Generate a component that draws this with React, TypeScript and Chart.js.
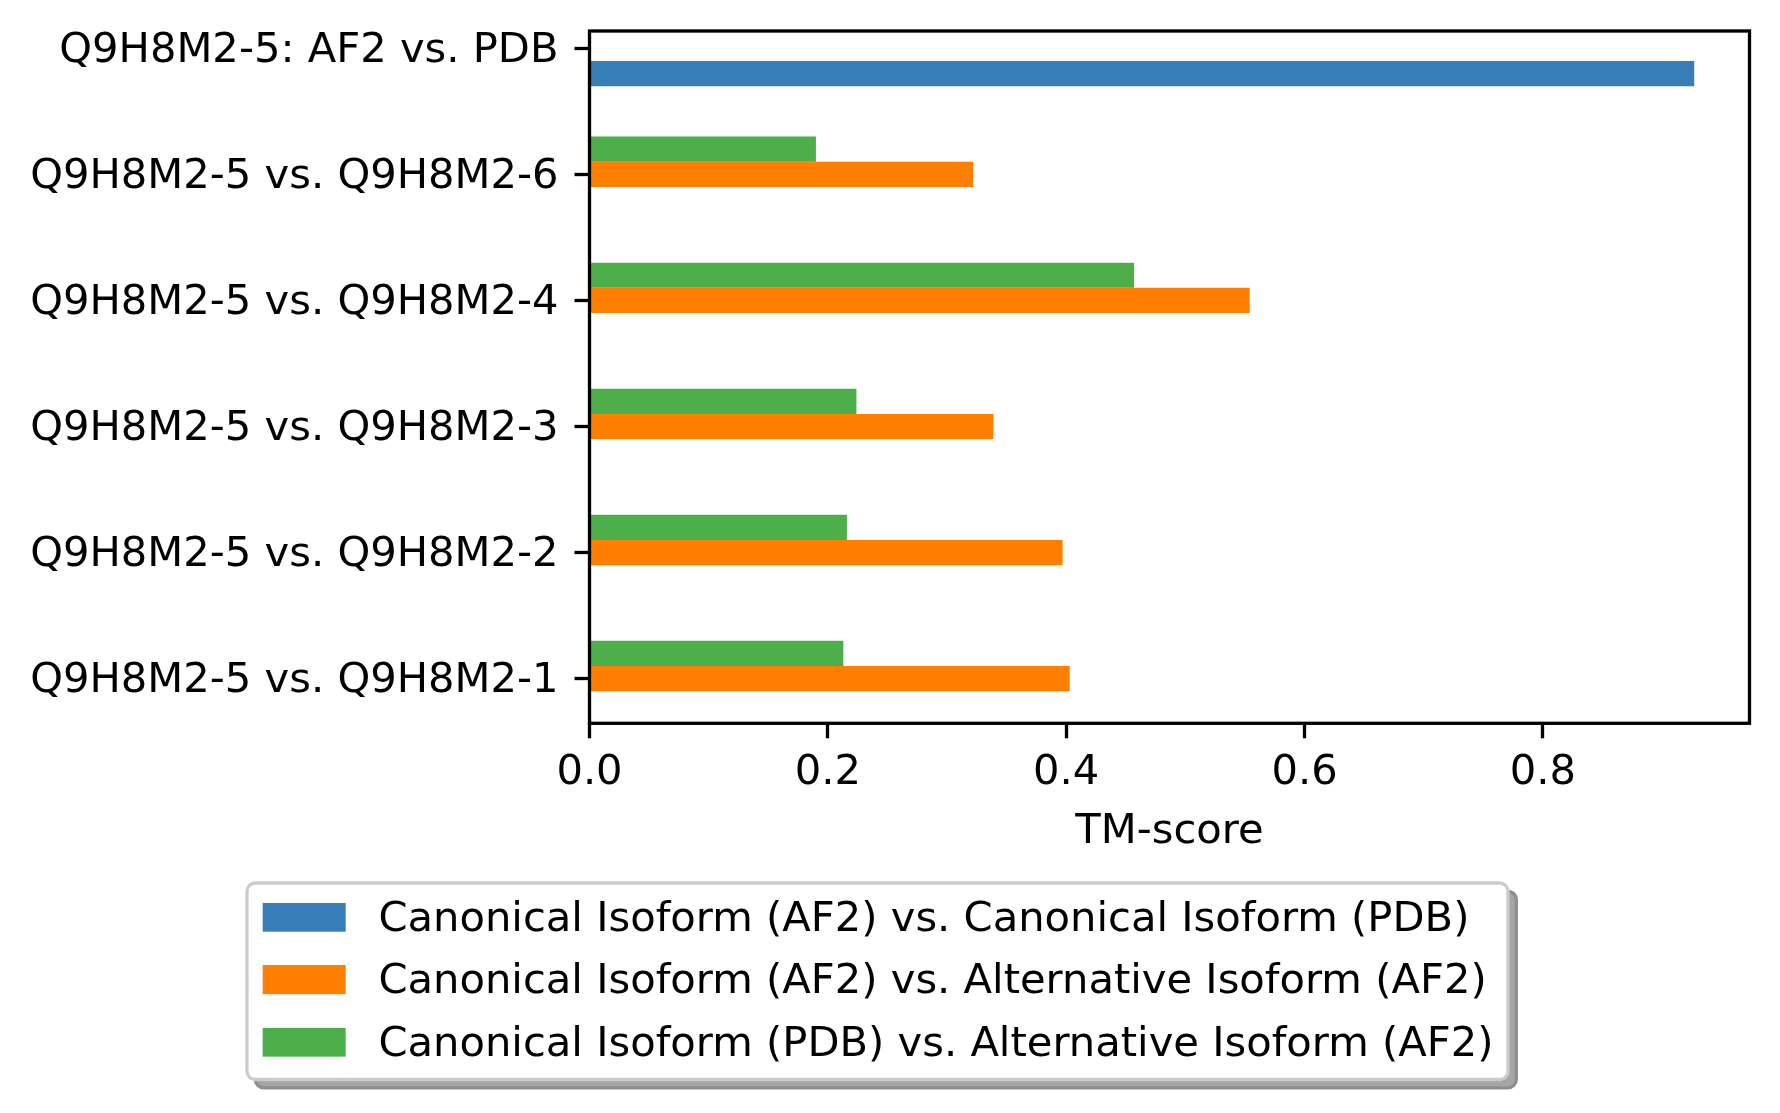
import React, { useEffect, useRef } from "react";
import { Chart, registerables } from "chart.js";

Chart.register(...registerables);

const FONT = '"DejaVu Sans", "Liberation Sans", sans-serif';
const FS = 41.67;

const CATEGORIES = [
  "Q9H8M2-5: AF2 vs. PDB",
  "Q9H8M2-5 vs. Q9H8M2-6",
  "Q9H8M2-5 vs. Q9H8M2-4",
  "Q9H8M2-5 vs. Q9H8M2-3",
  "Q9H8M2-5 vs. Q9H8M2-2",
  "Q9H8M2-5 vs. Q9H8M2-1",
];
const ROW_POSITIONS = [0, 1, 2, 3, 4, 5];

const AF2_VS_PDB: (number | null)[] = [0.927, null, null, null, null, null];
const AF2_VS_ALT_AF2: (number | null)[] = [null, 0.322, 0.554, 0.339, 0.397, 0.403];
const PDB_VS_ALT_AF2: (number | null)[] = [null, 0.19, 0.457, 0.224, 0.216, 0.213];

const X_TICKS = [0, 0.2, 0.4, 0.6, 0.8];
const X_MAX = 0.9734;
const Y_MIN = -0.138;
const Y_MAX = 5.355;

const SERIES_LABELS = [
  "Canonical Isoform (AF2) vs. Canonical Isoform (PDB)",
  "Canonical Isoform (AF2) vs. Alternative Isoform (AF2)",
  "Canonical Isoform (PDB) vs. Alternative Isoform (AF2)",
];
const COLORS = ["#377eb8", "#ff7f00", "#4daf4a"];

function toPoints(values: (number | null)[]) {
  const pts: { x: number; y: number }[] = [];
  values.forEach((v, i) => {
    if (v !== null && v !== undefined) pts.push({ x: v, y: ROW_POSITIONS[i] });
  });
  return pts;
}

function makeHandle(color: string): HTMLCanvasElement {
  const c = document.createElement("canvas");
  c.width = 97;
  c.height = 35;
  const g = c.getContext("2d")!;
  g.fillStyle = color;
  g.fillRect(2, 0, 83, 29);
  return c;
}

function roundRectPath(ctx: CanvasRenderingContext2D, x: number, y: number, w: number, h: number, r: number) {
  ctx.beginPath();
  ctx.moveTo(x + r, y);
  ctx.lineTo(x + w - r, y);
  ctx.arcTo(x + w, y, x + w, y + r, r);
  ctx.lineTo(x + w, y + h - r);
  ctx.arcTo(x + w, y + h, x + w - r, y + h, r);
  ctx.lineTo(x + r, y + h);
  ctx.arcTo(x, y + h, x, y + h - r, r);
  ctx.lineTo(x, y + r);
  ctx.arcTo(x, y, x + r, y, r);
  ctx.closePath();
}

export default function App() {
  const ref = useRef<HTMLCanvasElement | null>(null);

  useEffect(() => {
    document.body.style.margin = "0";
    const canvas = ref.current;
    if (!canvas) return;

    const handles = COLORS.map(makeHandle);
    const seriesValues = [AF2_VS_PDB, AF2_VS_ALT_AF2, PDB_VS_ALT_AF2];
    // stacking order top-to-bottom within a row: green, orange, blue
    const drawOrder = [2, 1, 0];

    const framePlugin = {
      id: "mplFrame",
      beforeDraw(chart: any) {
        const lg = chart.legend;
        if (lg) {
          lg.left = 239.9;
          lg.top = 878.5;
          lg.right = 1508;
          lg.bottom = chart.height;
          lg.width = lg.right - lg.left;
          lg.height = lg.bottom - lg.top;
        }
        const ctx: CanvasRenderingContext2D = chart.ctx;
        const bx = 247, by = 883, bw = 1261, bh = 196.5, r = 8.3, off = 8.3;
        ctx.save();
        roundRectPath(ctx, bx + off, by + off, bw, bh, r);
        ctx.fillStyle = "#a6a6a6";
        ctx.fill();
        ctx.lineWidth = 3.3;
        ctx.strokeStyle = "#8f8f8f";
        ctx.stroke();
        roundRectPath(ctx, bx, by, bw, bh, r);
        ctx.fillStyle = "#ffffff";
        ctx.fill();
        ctx.strokeStyle = "#cccccc";
        ctx.lineWidth = 3.3;
        ctx.stroke();
        ctx.restore();
      },
      afterDatasetsDraw(chart: any) {
        const { left, top, right, bottom } = chart.chartArea;
        const ctx: CanvasRenderingContext2D = chart.ctx;
        ctx.save();
        ctx.strokeStyle = "#000000";
        ctx.lineWidth = 3.3;
        ctx.lineJoin = "miter";
        ctx.strokeRect(left, top, right - left, bottom - top);
        ctx.restore();
      },
    };

    const chart = new Chart(canvas, {
      type: "bar",
      data: {
        datasets: drawOrder.map((si) => ({
          label: SERIES_LABELS[si],
          data: toPoints(seriesValues[si]) as any,
          backgroundColor: COLORS[si],
          borderWidth: 0,
          barPercentage: 1,
          categoryPercentage: 0.6,
        })),
      },
      options: {
        indexAxis: "y",
        animation: false,
        responsive: true,
        maintainAspectRatio: false,
        layout: { padding: { left: 0, top: 31, right: 30.5, bottom: 255.4 } },
        plugins: {
          tooltip: { enabled: false },
          title: { display: false },
          legend: {
            display: true,
            position: "chartArea" as any,
            align: "start",
            labels: {
              usePointStyle: true,
              pointStyleWidth: 96.9,
              boxHeight: 29,
              padding: 20.83,
              color: "#000000",
              font: { family: FONT, size: FS },
              generateLabels: () =>
                [0, 1, 2].map((si) => ({
                  text: SERIES_LABELS[si],
                  fillStyle: COLORS[si],
                  strokeStyle: COLORS[si],
                  fontColor: "#000000",
                  lineWidth: 0,
                  hidden: false,
                  datasetIndex: drawOrder.indexOf(si),
                  pointStyle: handles[si] as any,
                })) as any,
            },
          },
        },
        scales: {
          x: {
            type: "linear",
            position: "bottom",
            min: 0,
            max: X_MAX,
            offset: false,
            afterBuildTicks: (scale: any) => {
              scale.ticks = X_TICKS.map((v) => ({ value: v }));
            },
            afterFit: (scale: any) => {
              scale.height = 134.3;
              scale.paddingLeft = 0;
              scale.paddingRight = 0;
            },
            grid: {
              display: true,
              drawOnChartArea: false,
              drawTicks: true,
              tickLength: 15,
              tickWidth: 3.3,
              tickColor: "#000000",
              offset: false,
            },
            border: { display: false },
            ticks: {
              autoSkip: false,
              maxRotation: 0,
              minRotation: 0,
              padding: 10,
              color: "#000000",
              font: { family: FONT, size: FS },
              callback: (v: any) => Number(v).toFixed(1),
            },
            title: {
              display: true,
              text: "TM-score",
              color: "#000000",
              font: { family: FONT, size: FS },
              padding: { top: 0, bottom: 0 },
            },
          },
          y: {
            type: "linear",
            position: "left",
            reverse: true,
            min: Y_MIN,
            max: Y_MAX,
            offset: false,
            afterBuildTicks: (scale: any) => {
              scale.ticks = ROW_POSITIONS.map((v) => ({ value: v }));
            },
            afterFit: (scale: any) => {
              scale.width = 589.5;
              scale.paddingTop = 0;
              scale.paddingBottom = 0;
            },
            grid: {
              display: true,
              drawOnChartArea: false,
              drawTicks: true,
              tickLength: 15,
              tickWidth: 3.3,
              tickColor: "#000000",
              offset: false,
            },
            border: { display: false },
            ticks: {
              autoSkip: false,
              padding: 16,
              labelOffset: 3,
              color: "#000000",
              font: { family: FONT, size: FS },
              callback: (_v: any, i: number) => CATEGORIES[i],
            },
          },
        },
      },
      plugins: [framePlugin],
    });

    return () => chart.destroy();
  }, []);

  return (
    <div style={{ width: 1780, height: 1113, position: "relative", overflow: "hidden", background: "#fff" }}>
      <canvas ref={ref} style={{ display: "block" }} />
    </div>
  );
}
